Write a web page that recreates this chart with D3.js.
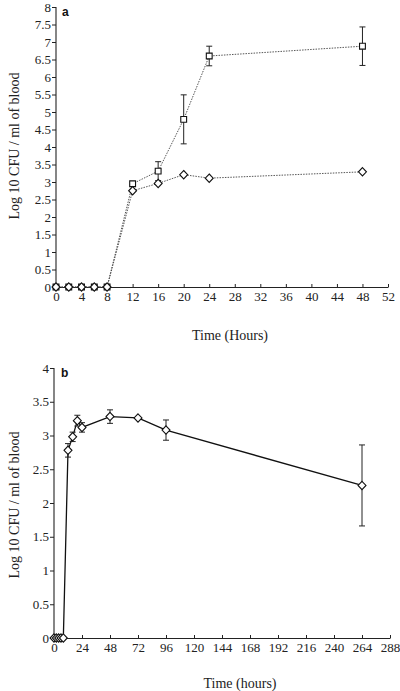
<!DOCTYPE html>
<html><head><meta charset="utf-8">
<script src="https://cdn.jsdelivr.net/npm/d3@7"></script>
<style>body{margin:0;background:#fff}svg{display:block}</style>
</head><body>
<svg id="c" width="400" height="691"></svg>
<script>
// Panel a
const aHours = [0, 2, 4, 6, 8, 12, 16, 20, 24, 48];
const aSquare = [0, 0, 0, 0, 0, 2.95, 3.31, 4.79, 6.6, 6.88];
const aSquareErr = [0, 0, 0, 0, 0, 0, 0.27, 0.7, 0.28, 0.55];
const aDiamond = [0, 0, 0, 0, 0, 2.75, 2.96, 3.21, 3.11, 3.29];
const aXTicks = d3.range(0, 53, 4);
const aYTicks = d3.range(0, 8.01, 0.5);
// Panel b
const bHours = [0, 2, 4, 6, 8, 12, 16, 20, 24, 48, 72, 96, 264];
const bDiamond = [0, 0, 0, 0, 0, 2.78, 2.98, 3.22, 3.12, 3.28, 3.26, 3.08, 2.26];
const bErr = [0, 0, 0, 0, 0, 0.1, 0.07, 0.08, 0.07, 0.1, 0, 0.15, 0.6];
const bXTicks = d3.range(0, 289, 24);
const bYTicks = d3.range(0, 4.01, 0.5);

const svg = d3.select("#c");
const serif = "'Liberation Serif','Times New Roman',serif";
const fmt = d => String(+d.toFixed(1));

function panel(o) {
  const g = svg.append("g");
  const x = d3.scaleLinear().domain(o.xd).range(o.xr);
  const y = d3.scaleLinear().domain(o.yd).range(o.yr);
  const ya = g.append("g").attr("transform", `translate(${o.xr[0]},0)`)
    .call(d3.axisLeft(y).tickValues(o.yTicks).tickFormat(fmt).tickSize(4).tickPadding(1));
  const xa = g.append("g").attr("transform", `translate(0,${o.yr[0]})`)
    .call(d3.axisBottom(x).tickValues(o.xTicks).tickFormat(d3.format("d")).tickSizeInner(-3).tickSizeOuter(0).tickPadding(5));
  [ya, xa].forEach(a => {
    a.select(".domain").attr("stroke", "#222").attr("stroke-width", 1.1);
    a.selectAll(".tick line").attr("stroke", "#222");
    a.selectAll("text").attr("font-family", serif).attr("font-size", 13).attr("fill", "#222");
  });
  ya.select(".domain").attr("d", `M0,${o.yr[0]}V${o.yr[1]}`);
  g.append("text").attr("transform", `translate(${o.ytx},${o.yty}) rotate(-90)`)
    .attr("text-anchor", "middle").attr("font-family", serif).attr("font-size", 14).attr("fill", "#222")
    .text("Log 10 CFU / ml of blood");
  g.append("text").attr("x", o.xtx).attr("y", o.xty).attr("text-anchor", "middle")
    .attr("font-family", serif).attr("font-size", 14).attr("fill", "#222").text(o.xTitle);
  g.append("text").attr("x", o.lx).attr("y", o.ly).attr("font-family", "'Liberation Sans',Arial,sans-serif")
    .attr("font-weight", "bold").attr("font-size", 12).attr("fill", "#111").text(o.letter);
  return {g, x, y};
}

function series(p, xs, ys, errs, shape, dash, lw, color) {
  const pts = xs.map((h, i) => ({h, v: ys[i], e: errs ? errs[i] : 0}));
  p.g.append("path").datum(pts)
    .attr("d", d3.line().x(d => p.x(d.h)).y(d => p.y(d.v)))
    .attr("fill", "none").attr("stroke", color).attr("stroke-width", lw)
    .attr("stroke-dasharray", dash);
  const eb = p.g.append("g").attr("stroke", "#222").attr("stroke-width", 1);
  pts.filter(d => d.e > 0).forEach(d => {
    const cx = p.x(d.h);
    eb.append("line").attr("x1", cx).attr("x2", cx).attr("y1", p.y(d.v + d.e)).attr("y2", p.y(d.v - d.e));
    eb.append("line").attr("x1", cx - 3).attr("x2", cx + 3).attr("y1", p.y(d.v + d.e)).attr("y2", p.y(d.v + d.e));
    eb.append("line").attr("x1", cx - 3).attr("x2", cx + 3).attr("y1", p.y(d.v - d.e)).attr("y2", p.y(d.v - d.e));
  });
  const sym = d3.symbol().type(shape === "square" ? d3.symbolSquare : d3.symbolDiamond2)
    .size(shape === "square" ? 34 : 40);
  p.g.append("g").selectAll("path").data(pts).join("path")
    .attr("transform", d => `translate(${p.x(d.h)},${p.y(d.v)})` + (shape === "square" ? "" : " scale(1,1.05)"))
    .attr("d", sym).attr("fill", "#fff").attr("stroke", "#111").attr("stroke-width", 1.1);
}

const pa = panel({xd: [0, 52], xr: [56, 388], yd: [0, 8], yr: [287, 7],
  xTicks: aXTicks, yTicks: aYTicks, ytx: 19, yty: 146, xtx: 230, xty: 340,
  xTitle: "Time (Hours)", letter: "a", lx: 62, ly: 16});
series(pa, aHours, aSquare, aSquareErr, "square", "1.5,1.2", 0.9, "#444");
series(pa, aHours, aDiamond, null, "diamond", "1.5,1.2", 0.9, "#444");

const pb = panel({xd: [0, 288], xr: [54, 390], yd: [0, 4], yr: [638, 368],
  xTicks: bXTicks, yTicks: bYTicks, ytx: 19, yty: 505, xtx: 240, xty: 688,
  xTitle: "Time (hours)", letter: "b", lx: 61, ly: 377});
series(pb, bHours, bDiamond, bErr, "diamond", null, 1.3, "#111");
</script>
</body></html>
